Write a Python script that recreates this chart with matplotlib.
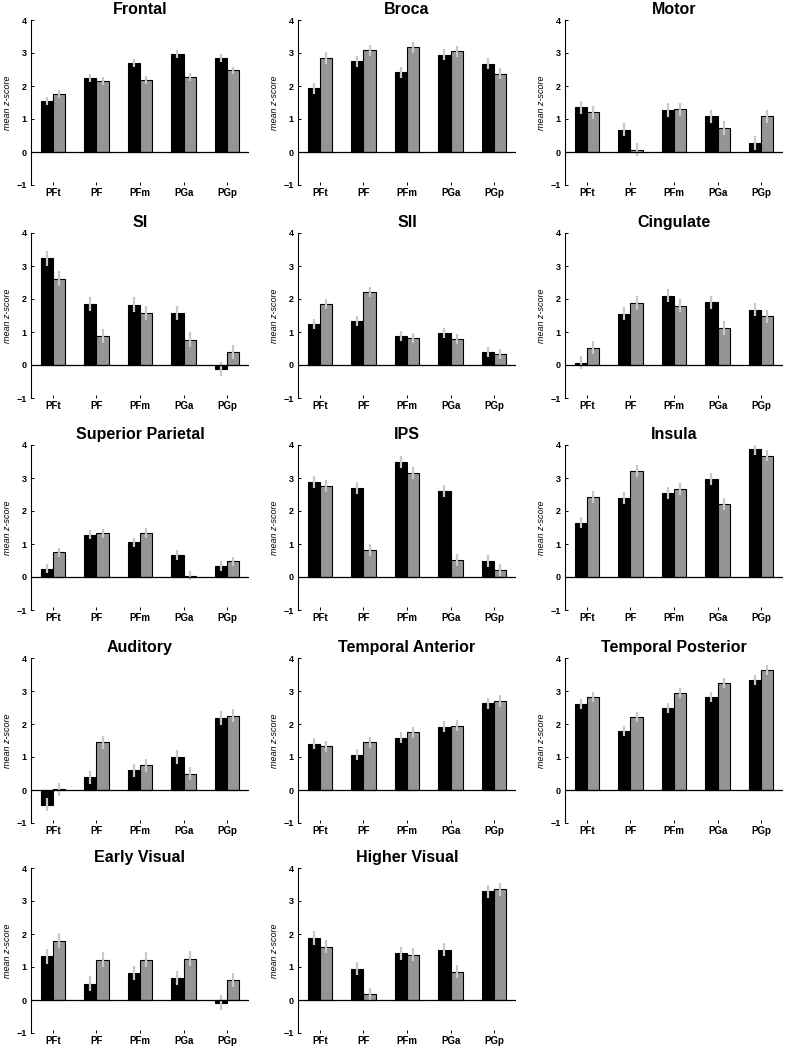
import numpy as np
import matplotlib
matplotlib.use('Agg')
import matplotlib.pyplot as plt

plt.rcParams['font.family'] = ['Liberation Sans', 'DejaVu Sans']

categories = ['PFt', 'PF', 'PFm', 'PGa', 'PGp']

regions = ['Frontal', 'Broca', 'Motor',
           'SI', 'SII', 'Cingulate',
           'Superior Parietal', 'IPS', 'Insula',
           'Auditory', 'Temporal Anterior', 'Temporal Posterior',
           'Early Visual', 'Higher Visual']

frontal_black = [1.55, 2.25, 2.70, 2.98, 2.85]
frontal_gray = [1.75, 2.15, 2.18, 2.28, 2.47]
broca_black = [1.93, 2.75, 2.42, 2.95, 2.68]
broca_gray = [2.85, 3.08, 3.17, 3.05, 2.37]
motor_black = [1.35, 0.67, 1.27, 1.08, 0.27]
motor_gray = [1.20, 0.07, 1.30, 0.73, 1.08]
si_black = [3.23, 1.85, 1.83, 1.58, -0.12]
si_gray = [2.62, 0.88, 1.58, 0.77, 0.39]
sii_black = [1.25, 1.32, 0.87, 0.96, 0.40]
sii_gray = [1.85, 2.20, 0.82, 0.78, 0.33]
cingulate_black = [0.07, 1.55, 2.10, 1.90, 1.68]
cingulate_gray = [0.53, 1.88, 1.80, 1.12, 1.48]
supparietal_black = [0.25, 1.28, 1.05, 0.67, 0.33]
supparietal_gray = [0.75, 1.32, 1.33, 0.04, 0.48]
ips_black = [2.88, 2.70, 3.48, 2.60, 0.48]
ips_gray = [2.75, 0.82, 3.15, 0.52, 0.20]
insula_black = [1.65, 2.40, 2.55, 2.97, 3.87]
insula_gray = [2.42, 3.20, 2.68, 2.22, 3.68]
auditory_black = [-0.45, 0.38, 0.60, 1.00, 2.18]
auditory_gray = [0.02, 1.45, 0.75, 0.50, 2.25]
tempant_black = [1.40, 1.07, 1.58, 1.92, 2.63]
tempant_gray = [1.32, 1.45, 1.75, 1.95, 2.70]
temppost_black = [2.60, 1.80, 2.48, 2.82, 3.32]
temppost_gray = [2.82, 2.20, 2.93, 3.23, 3.65]
earlyvis_black = [1.32, 0.50, 0.82, 0.67, -0.08]
earlyvis_gray = [1.80, 1.22, 1.22, 1.25, 0.60]
highervis_black = [1.88, 0.95, 1.42, 1.52, 3.30]
highervis_gray = [1.62, 0.17, 1.37, 0.86, 3.35]

# approximate half-length of the error bars, one per region
errors = [0.12, 0.17, 0.20, 0.22, 0.15, 0.20, 0.14,
          0.18, 0.18, 0.20, 0.17, 0.15, 0.22, 0.20]

black_vals = [frontal_black, broca_black, motor_black, si_black, sii_black,
              cingulate_black, supparietal_black, ips_black, insula_black,
              auditory_black, tempant_black, temppost_black, earlyvis_black,
              highervis_black]
gray_vals = [frontal_gray, broca_gray, motor_gray, si_gray, sii_gray,
             cingulate_gray, supparietal_gray, ips_gray, insula_gray,
             auditory_gray, tempant_gray, temppost_gray, earlyvis_gray,
             highervis_gray]

W, H = 794, 1050
fig = plt.figure(figsize=(W / 100, H / 100), dpi=100)

col_left = [31, 298, 565]
row_top = [20, 233, 445, 658, 868]
ax_w, ax_h = 218, 165

x = np.arange(1, 6)
bw = 0.28

for i, name in enumerate(regions):
    r, c = divmod(i, 3)
    ax = fig.add_axes([col_left[c] / W, 1 - (row_top[r] + ax_h) / H, ax_w / W, ax_h / H])
    err = errors[i]
    ax.bar(x - bw / 2, black_vals[i], bw, color='black', edgecolor='black', linewidth=0.8, zorder=2)
    ax.bar(x + bw / 2, gray_vals[i], bw, color='#959595', edgecolor='black', linewidth=0.8, zorder=2)
    ax.errorbar(x - bw / 2, black_vals[i], yerr=err, fmt='none', ecolor='#c8c8c8', elinewidth=1.6, capsize=0, zorder=3)
    ax.errorbar(x + bw / 2, gray_vals[i], yerr=err, fmt='none', ecolor='#c8c8c8', elinewidth=1.6, capsize=0, zorder=3)
    ax.axhline(0, color='black', linewidth=0.9, zorder=4)

    ax.set_xlim(0.5, 5.5)
    ax.set_ylim(-1, 4)
    ax.set_yticks([-1, 0, 1, 2, 3, 4])
    ax.set_xticks(x)
    ax.set_xticklabels(categories)
    for s in ['top', 'right', 'bottom']:
        ax.spines[s].set_visible(False)
    ax.spines['left'].set_linewidth(0.8)
    ax.tick_params(axis='y', direction='in', length=2, width=0.7, labelsize=6.5, pad=3)
    ax.tick_params(axis='x', direction='in', length=2, width=0.7, labelsize=7, pad=2)
    for lbl in ax.get_xticklabels() + ax.get_yticklabels():
        lbl.set_fontweight('bold')
    ax.set_ylabel('mean z-score', fontsize=6.5, style='italic', labelpad=3)
    ax.set_title(name, fontsize=11.5, fontweight='bold', pad=4)

fig.savefig('out.png', dpi=100)
